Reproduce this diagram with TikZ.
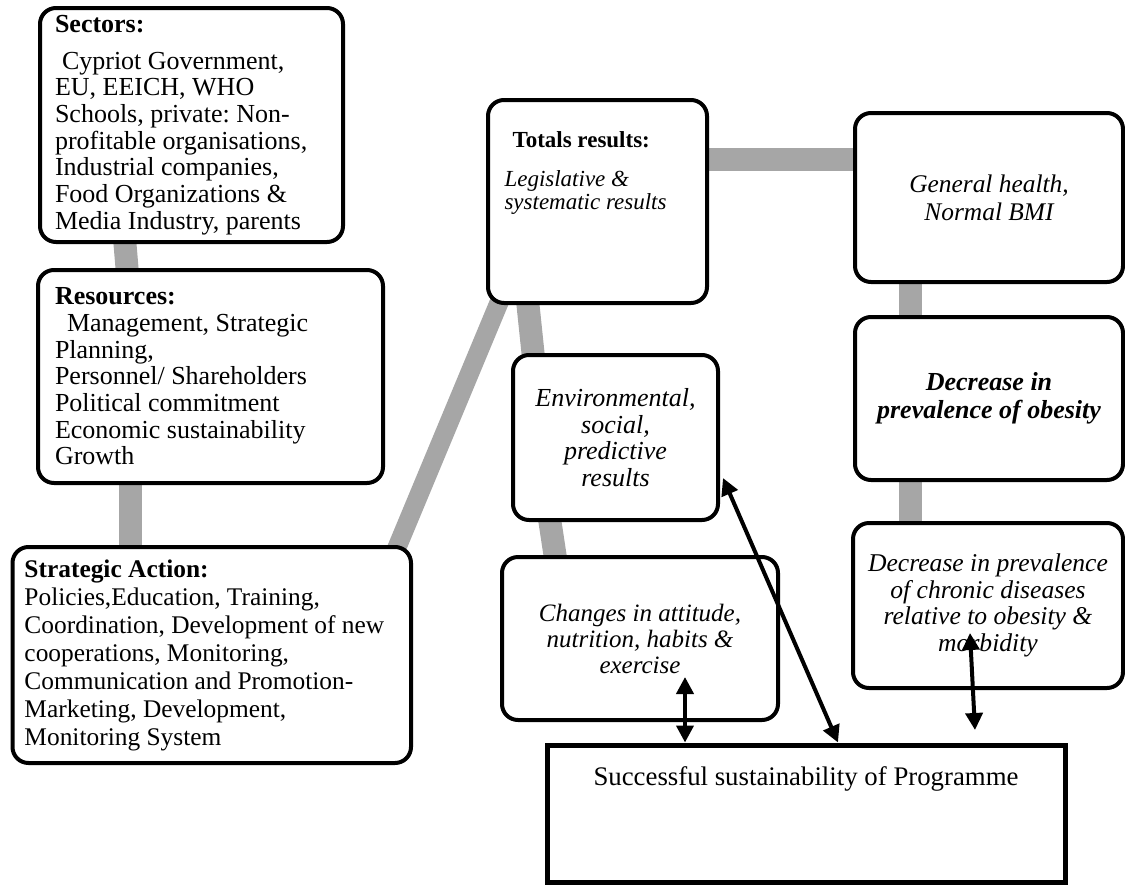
\documentclass[tikz,border=0pt]{standalone}
\usepackage{fontspec}
\setmainfont{Liberation Serif}
\frenchspacing
\usetikzlibrary{arrows.meta,backgrounds}
\definecolor{link_gray}{RGB}{166,166,166}
\newcommand\topbox[3]{\parbox[c][#1][t]{#2}{#3}}

\begin{document}
\begin{tikzpicture}[x=0.5pt,y=-0.5pt,>={Triangle[length=8.5pt,width=8.5pt]}]
    \tikzstyle{box}=[draw=black, line width=2pt, fill=white, rounded corners=8pt, text=black]
    \tikzstyle{lbox}=[style=box, align=flush left, font=\fontsize{13}{13.35}\selectfont]
    \tikzstyle{cbox}=[style=box, align=center, font=\fontsize{13}{13.35}\selectfont\itshape]
    \tikzstyle{link}=[draw=link_gray, line width=11.5pt, shorten <=-3pt, shorten >=-3pt]
    \tikzstyle{twoway}=[<->, draw=black, line width=2pt]

    \useasboundingbox (0,0) rectangle (1125,884);

    % left column
    \node[lbox, minimum width=151.5pt, minimum height=117pt, inner xsep=7.5pt, text width=136.5pt] (sectors) at (191.5,125)
      {\textbf{Sectors:}\\[5pt] \hspace*{3.5pt}Cypriot Government,\\ EU, EEICH, WHO\\ Schools, private: Non-\\ profitable organisations,\\
       Industrial companies,\\ Food Organizations \&\\ Media Industry, parents};
    \node[lbox, minimum width=172.5pt, minimum height=106.5pt, inner xsep=8.5pt, text width=155.5pt] (resources) at (210.5,376.5)
      {\textbf{Resources:}\\ \hspace*{6pt}Management, Strategic\\ Planning,\\ Personnel/ Shareholders\\ Political commitment\\
       Economic sustainability\\ Growth};
    \node[lbox, font=\fontsize{12.7}{14}\selectfont, minimum width=199.25pt, minimum height=108pt, inner xsep=6pt, text width=187.25pt] (strat) at (211.75,655)
      {\textbf{Strategic Action:}\\ Policies,Education, Training,\\ Coordination, Development of new\\ cooperations, Monitoring,\\
       Communication and Promotion-\\ Marketing, Development,\\ Monitoring System};

    % middle column
    \node[box, inner sep=0pt, minimum width=109.5pt, minimum height=101.5pt] (totals) at (597.5,201.5)
      {\topbox{101.5pt}{93pt}{\raggedright\fontsize{11.5}{11.5}\selectfont\vspace*{16pt}\hspace*{4pt}\textbf{Totals results:}\\[8pt]
       {\itshape Legislative \&\\ systematic results}}};
    \node[cbox, minimum width=102.5pt, minimum height=82.5pt] (env) at (615.5,437.5)
      {Environmental,\\ social,\\ predictive\\ results};
    \node[cbox, font=\fontsize{12.5}{13}\selectfont\itshape, minimum width=138pt, minimum height=81.5pt] (changes) at (640,638.5)
      {Changes in attitude,\\ nutrition, habits \&\\ exercise};

    % right column
    \node[cbox, font=\fontsize{12.7}{14}\selectfont\itshape, minimum width=134pt, minimum height=84.5pt] (general) at (989,197.5)
      {General health,\\ Normal BMI};
    \node[cbox, font=\fontsize{13}{14}\selectfont\bfseries\itshape, minimum width=134pt, minimum height=81.5pt] (obesity) at (989,398.5)
      {Decrease in\\ prevalence of obesity};
    \node[cbox, font=\fontsize{12.8}{13.35}\selectfont\itshape, minimum width=135pt, minimum height=82.5pt] (chronic) at (988,605.5)
      {Decrease in prevalence\\ of chronic diseases\\ relative to obesity \&\\ morbidity};

    % bottom
    \node[box, sharp corners, line width=2.5pt, inner sep=0pt, minimum width=259pt, minimum height=68.5pt] (succ) at (806,813.5)
      {\topbox{68.5pt}{259pt}{\centering\fontsize{13.4}{16}\selectfont\vspace*{10.8pt}Successful sustainability of Programme}};

    % grey links behind the boxes
    \begin{pgfonlayer}{background}
    \path
     (sectors.south -| 125,0) edge[link] (resources.north -| 127,0)
     (resources.south -| 130,0) edge[link] (strat.north -| 130,0)
     (strat.north -| 398,0) edge[link, line width=9.5pt] (totals.south -| 498,0)
     (totals.south -| 528,0) edge[link] (env.north -| 533,0)
     (env.south -| 550,0) edge[link] (changes.north -| 555,0)
     (totals.east |- 0,159) edge[link] (general.west |- 0,159)
     (general.south -| 910,0) edge[link] (obesity.north -| 910,0)
     (obesity.south -| 910,0) edge[link] (chronic.north -| 910,0)
     ;
    \end{pgfonlayer}

    % arrows to the programme box
    \coordinate (a1) at (685,677);
    \coordinate (a2) at (723,478);
    \coordinate (a3) at (970,633);
    \coordinate (a3end) at (975,730);
    \path
     (a1) edge[twoway] (succ.north -| a1)
     (a2) edge[twoway] (succ.north -| 838,0)
     (a3) edge[twoway] (a3end)
     ;
\end{tikzpicture}
\end{document}
